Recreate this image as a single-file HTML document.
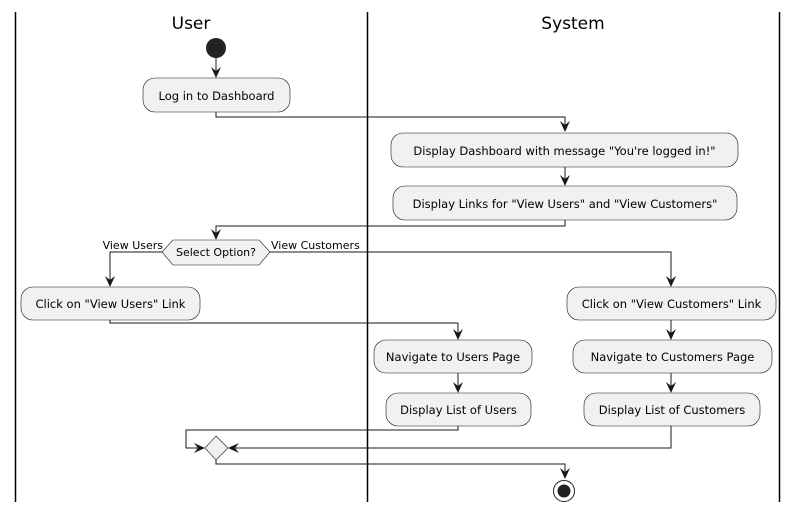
<!DOCTYPE html>
<html><head><meta charset="utf-8"><style>
html,body{margin:0;padding:0;background:#fff;}
svg{display:block;}
text{font-family:"DejaVu Sans","Liberation Sans",sans-serif;}
</style></head><body>
<svg width="798" height="513" viewBox="0 0 798 513" xmlns="http://www.w3.org/2000/svg">
<g stroke="#000" stroke-width="1.5">
<line x1="15.5" y1="12" x2="15.5" y2="502"/>
<line x1="367.5" y1="12" x2="367.5" y2="502"/>
<line x1="779.5" y1="12" x2="779.5" y2="502"/>
</g>
<text x="191" y="29" font-size="17" text-anchor="middle">User</text>
<text x="573" y="29" font-size="17" text-anchor="middle">System</text>
<circle cx="216" cy="48" r="10" fill="#222"/>
<g fill="none" stroke="#181818" stroke-width="1">
<polyline points="216,58 216,76"/>
<polyline points="216,112 216,117 565,117 565,130"/>
<polyline points="565,167 565,184"/>
<polyline points="565,220 565,226 216,226 216,238"/>
<polyline points="162,252 110,252 110,285"/>
<polyline points="270,252 671,252 671,285"/>
<polyline points="110,320 110,323 458,323 458,338"/>
<polyline points="671,320 671,338"/>
<polyline points="458,373 458,391"/>
<polyline points="671,373 671,391"/>
<polyline points="458,426 458,430 186,430 186,448 203,448"/>
<polyline points="671,426 671,448 230,448"/>
<polyline points="216,460 216,464 565,464 565,477"/>
</g>
<g fill="#181818">
<polygon points="216,78 211,67 216,71 221,67"/>
<polygon points="565,132 560,121 565,125 570,121"/>
<polygon points="565,186 560,175 565,179 570,175"/>
<polygon points="216,240 211,229 216,233 221,229"/>
<polygon points="110,287 105,276 110,280 115,276"/>
<polygon points="671,287 666,276 671,280 676,276"/>
<polygon points="458,340 453,329 458,333 463,329"/>
<polygon points="671,340 666,329 671,333 676,329"/>
<polygon points="458,393 453,382 458,386 463,382"/>
<polygon points="671,393 666,382 671,386 676,382"/>
<polygon points="205,448 194,443 198,448 194,453"/>
<polygon points="228,448 239,443 235,448 239,453"/>
<polygon points="565,479 560,468 565,472 570,468"/>
</g>
<g fill="#f1f1f1" stroke="#181818" stroke-width="0.6">
<rect x="143" y="78" width="147" height="34" rx="12"/>
<rect x="391" y="133" width="347" height="34" rx="12"/>
<rect x="393" y="186" width="344" height="34" rx="12"/>
<polygon points="162,252 173,240 259,240 270,252 259,265 173,265"/>
<rect x="21" y="287" width="179" height="33" rx="12"/>
<rect x="567" y="287" width="209" height="33" rx="12"/>
<rect x="374" y="340" width="158" height="33" rx="12"/>
<rect x="386" y="393" width="145" height="33" rx="12"/>
<rect x="573" y="340" width="199" height="33" rx="12"/>
<rect x="584" y="393" width="176" height="33" rx="12"/>
<polygon points="216,436 228,448 216,460 205,448"/>
</g>
<g font-size="11.5" fill="#000" text-anchor="middle">
<text x="216.5" y="100">Log in to Dashboard</text>
<text x="564.5" y="155">Display Dashboard with message "You're logged in!"</text>
<text x="565" y="208">Display Links for "View Users" and "View Customers"</text>
<text x="216" y="256" font-size="11">Select Option?</text>
<text x="110.5" y="308">Click on "View Users" Link</text>
<text x="671.5" y="308">Click on "View Customers" Link</text>
<text x="453" y="361">Navigate to Users Page</text>
<text x="458.5" y="414">Display List of Users</text>
<text x="672.5" y="361">Navigate to Customers Page</text>
<text x="672" y="414">Display List of Customers</text>
</g>
<text x="163" y="249" font-size="11" text-anchor="end">View Users</text>
<text x="271" y="249" font-size="11">View Customers</text>
<circle cx="564" cy="491" r="10.5" fill="#fff" stroke="#222" stroke-width="1"/>
<circle cx="564" cy="491" r="6.5" fill="#222"/>
</svg>
</body></html>
